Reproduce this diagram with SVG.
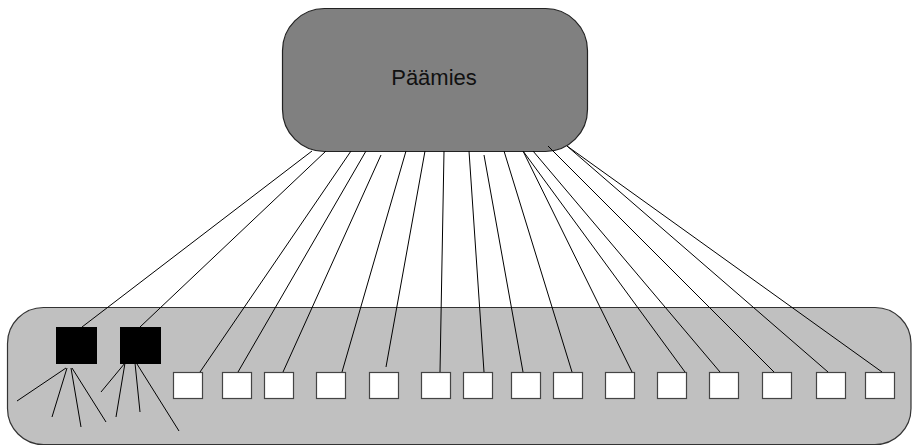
<svg xmlns="http://www.w3.org/2000/svg" width="912" height="446" viewBox="0 0 912 446">
  <style>
    .group { fill: #c0c0c0; stroke: #333; stroke-width: 1.2; }
    .boss { fill: #808080; stroke: #222; stroke-width: 1.2; }
    .dark { fill: #000; stroke: #000; stroke-width: 1; }
    .member { fill: #fff; stroke: #444; stroke-width: 1.2; }
    .link { stroke: #000; stroke-width: 1; fill: none; }
    .label { font-family: "Liberation Sans", Arial, sans-serif; font-size: 22px; fill: #111; }
  </style>

  <!-- group container -->
  <g id="group">
    <rect class="group" x="7.5" y="307.5" width="903.5" height="137" rx="36" ry="36"/>
  </g>

  <!-- principal -->
  <g id="principal">
    <rect class="boss" x="282.5" y="8.5" width="305" height="143" rx="42" ry="42"/>
    <text class="label" x="434" y="85" text-anchor="middle">Päämies</text>
  </g>

  <!-- agents -->
  <g id="agent-1"><rect class="dark" x="56.5" y="327.5" width="40" height="36"/></g>
  <g id="agent-2"><rect class="dark" x="120.5" y="327.5" width="40" height="36"/></g>
  <g id="agent-3"><rect class="member" x="173.5" y="372.5" width="29" height="26"/></g>
  <g id="agent-4"><rect class="member" x="222.5" y="372.5" width="29" height="26"/></g>
  <g id="agent-5"><rect class="member" x="264.5" y="372.5" width="29" height="26"/></g>
  <g id="agent-6"><rect class="member" x="316.5" y="372.5" width="29" height="26"/></g>
  <g id="agent-7"><rect class="member" x="369.5" y="372.5" width="29" height="26"/></g>
  <g id="agent-8"><rect class="member" x="421.5" y="372.5" width="29" height="26"/></g>
  <g id="agent-9"><rect class="member" x="463.5" y="372.5" width="29" height="26"/></g>
  <g id="agent-10"><rect class="member" x="511.5" y="372.5" width="29" height="26"/></g>
  <g id="agent-11"><rect class="member" x="553.5" y="372.5" width="29" height="26"/></g>
  <g id="agent-12"><rect class="member" x="605.5" y="372.5" width="29" height="26"/></g>
  <g id="agent-13"><rect class="member" x="657.5" y="372.5" width="29" height="26"/></g>
  <g id="agent-14"><rect class="member" x="709.5" y="372.5" width="29" height="26"/></g>
  <g id="agent-15"><rect class="member" x="762.5" y="372.5" width="29" height="26"/></g>
  <g id="agent-16"><rect class="member" x="816.5" y="372.5" width="29" height="26"/></g>
  <g id="agent-17"><rect class="member" x="865.5" y="372.5" width="29" height="26"/></g>

  <!-- connectors -->
  <g id="connectors" class="link">
    <line x1="312" y1="151" x2="82" y2="327"/>
    <line x1="326" y1="151" x2="140" y2="327"/>
    <line x1="351" y1="151" x2="200" y2="372"/>
    <line x1="366" y1="151" x2="238" y2="372"/>
    <line x1="381" y1="155" x2="283" y2="372"/>
    <line x1="406" y1="151" x2="342" y2="372"/>
    <line x1="425" y1="151" x2="386" y2="367"/>
    <line x1="444" y1="151" x2="440" y2="372"/>
    <line x1="469" y1="151" x2="484" y2="372"/>
    <line x1="484" y1="155" x2="523" y2="372"/>
    <line x1="504" y1="151" x2="572" y2="372"/>
    <line x1="523" y1="151" x2="632" y2="372"/>
    <line x1="523" y1="151" x2="685" y2="372"/>
    <line x1="533" y1="151" x2="720" y2="372"/>
    <line x1="548" y1="146" x2="774" y2="372"/>
    <line x1="567" y1="146" x2="828" y2="372"/>
    <line x1="567" y1="146" x2="882" y2="372"/>

    <!-- fan-out below the two dark agents -->
    <line x1="66" y1="368" x2="17" y2="401"/>
    <line x1="67" y1="368" x2="52" y2="417"/>
    <line x1="71" y1="368" x2="81" y2="427"/>
    <line x1="72" y1="368" x2="106" y2="422"/>
    <line x1="125" y1="363" x2="101" y2="392"/>
    <line x1="125" y1="363" x2="116" y2="417"/>
    <line x1="135" y1="363" x2="140" y2="412"/>
    <line x1="137" y1="364" x2="179" y2="431"/>
  </g>
</svg>
